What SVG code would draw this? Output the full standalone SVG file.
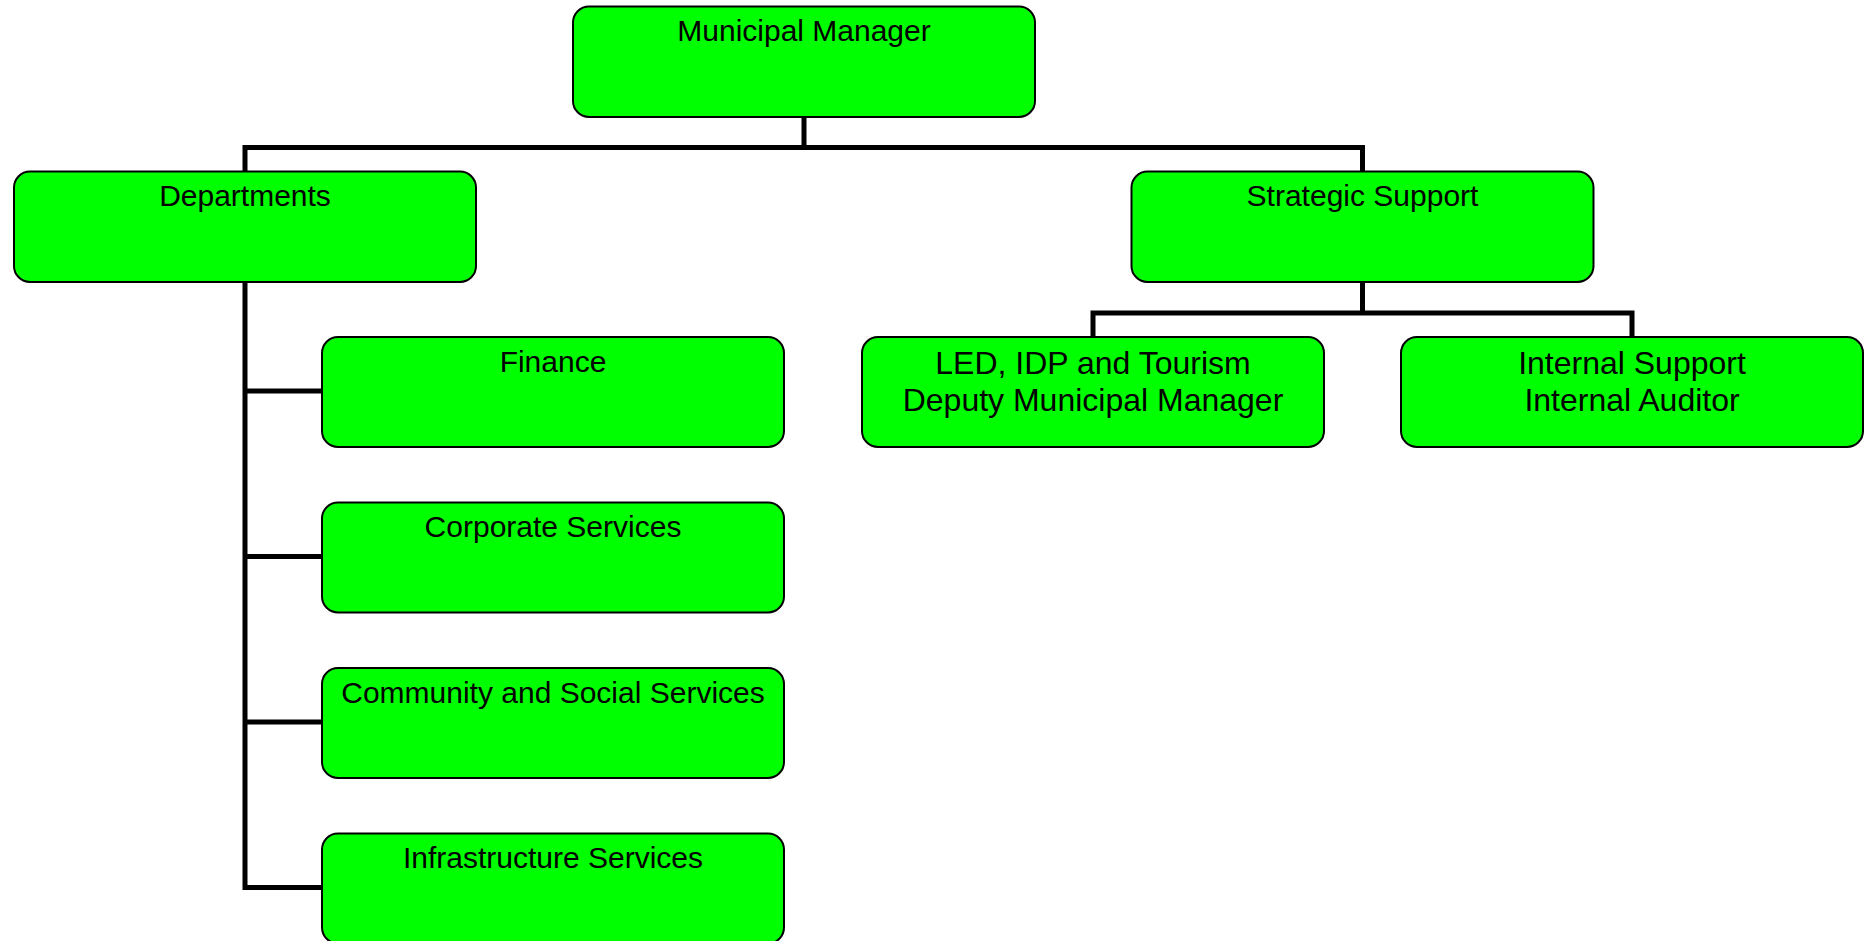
<svg xmlns="http://www.w3.org/2000/svg" width="1865" height="941" viewBox="0 0 1865 941">
<style>
.box{fill:#00ff00;stroke:#000;stroke-width:2}
.t{font-family:"Liberation Sans",Arial,sans-serif;font-size:30px;fill:#000;text-anchor:middle}
.t2{font-family:"Liberation Sans",Arial,sans-serif;font-size:32px;fill:#000;text-anchor:middle}
.c{fill:none;stroke:#000;stroke-width:5;stroke-linejoin:miter;stroke-linecap:butt}
</style>
<rect width="1865" height="941" fill="#fff"/>
<g id="connectors">
<path class="c" d="M804 117 V147.5 M245 171.5 V147.5 H1362.5 V171.5"/>
<path class="c" d="M245 282 V887.5 H322 M245 391 H322 M245 556.5 H322 M245 722 H322"/>
<path class="c" d="M1362.5 282 V313 M1093 337 V313 H1632 V337"/>
</g>
<g id="municipal-manager">
<rect class="box" x="573" y="6.5" width="462" height="110.5" rx="16"/>
<text class="t" x="804" y="41">Municipal Manager</text>
</g>
<g id="departments">
<rect class="box" x="14" y="171.5" width="462" height="110.5" rx="16"/>
<text class="t" x="245" y="205.5">Departments</text>
</g>
<g id="strategic-support">
<rect class="box" x="1131.5" y="171.5" width="462" height="110.5" rx="16"/>
<text class="t" x="1362.5" y="205.5">Strategic Support</text>
</g>
<g id="finance">
<rect class="box" x="322" y="337" width="462" height="110" rx="16"/>
<text class="t" x="553" y="371.5">Finance</text>
</g>
<g id="corporate-services">
<rect class="box" x="322" y="502.5" width="462" height="110" rx="16"/>
<text class="t" x="553" y="537">Corporate Services</text>
</g>
<g id="community-social-services">
<rect class="box" x="322" y="668" width="462" height="110" rx="16"/>
<text class="t" x="553" y="702.5">Community and Social Services</text>
</g>
<g id="infrastructure-services">
<rect class="box" x="322" y="833.5" width="462" height="110" rx="16"/>
<text class="t" x="553" y="868">Infrastructure Services</text>
</g>
<g id="led-idp-tourism">
<rect class="box" x="862" y="337" width="462" height="110" rx="16"/>
<text class="t2" x="1093" y="373.5">LED, IDP and Tourism</text>
<text class="t2" x="1093" y="410.5">Deputy Municipal Manager</text>
</g>
<g id="internal-support">
<rect class="box" x="1401" y="337" width="462" height="110" rx="16"/>
<text class="t2" x="1632" y="373.5">Internal Support</text>
<text class="t2" x="1632" y="410.5">Internal Auditor</text>
</g>
</svg>
